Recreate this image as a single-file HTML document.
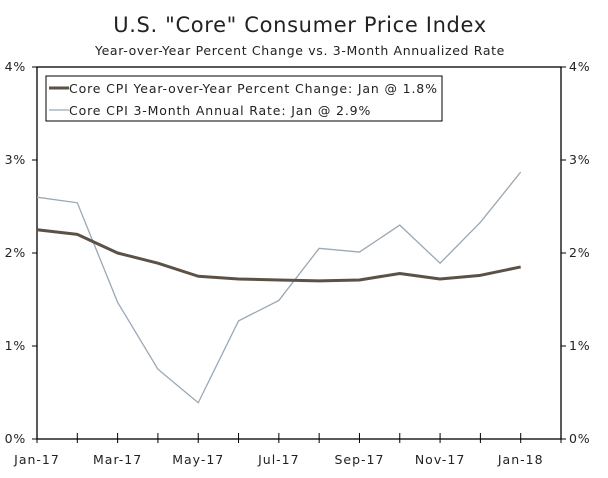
<!DOCTYPE html>
<html><head><meta charset="utf-8"><style>
body{margin:0;background:#fff;font-family:"DejaVu Sans","Liberation Sans",sans-serif;}
svg text{font-family:"DejaVu Sans","Liberation Sans",sans-serif;fill:#222;}
</style></head><body>
<svg id="chart" width="608" height="474" xmlns="http://www.w3.org/2000/svg">
<text x="300" y="32" font-size="21" letter-spacing="0.65" text-anchor="middle">U.S. "Core" Consumer Price Index</text>
<text x="300" y="55" font-size="12.5" letter-spacing="0.65" text-anchor="middle">Year-over-Year Percent Change vs. 3-Month Annualized Rate</text>
<rect x="37" y="67" width="524" height="372" fill="none" stroke="#000" stroke-width="1.3"/>
<g id="axes"></g>
<g id="series"></g>
<g>
<rect x="46" y="76" width="396" height="45" fill="#fff" stroke="#000" stroke-width="1"/>
<line x1="49" y1="88" x2="69" y2="88" stroke="#5c5146" stroke-width="3"/>
<text x="69" y="93" font-size="12.5" letter-spacing="0.85">Core CPI Year-over-Year Percent Change: Jan @ 1.8%</text>
<line x1="49" y1="110" x2="69" y2="110" stroke="#9aa8b4" stroke-width="1.2"/>
<text x="69" y="115" font-size="12.5" letter-spacing="0.85">Core CPI 3-Month Annual Rate: Jan @ 2.9%</text>
</g>
</svg>
<script>
const months = ["Jan-17","Feb-17","Mar-17","Apr-17","May-17","Jun-17","Jul-17","Aug-17","Sep-17","Oct-17","Nov-17","Dec-17","Jan-18"];
const yoyValues = [2.25,2.20,2.00,1.89,1.75,1.72,1.71,1.70,1.71,1.78,1.72,1.76,1.85];
const threeMonthValues = [2.60,2.54,1.47,0.75,0.39,1.27,1.49,2.05,2.01,2.30,1.89,2.33,2.87];
const yTicks = [0,1,2,3,4];
const yTickLabels = ["0%","1%","2%","3%","4%"];
const NS="http://www.w3.org/2000/svg";
const x0=37,x1=561,y0=439,y1=67;
function xs(i){return x0+i*(x1-x0)/13;}
function ys(v){return y0-(v/4)*(y0-y1);}
function el(t,a,p){const e=document.createElementNS(NS,t);for(const k in a)e.setAttribute(k,a[k]);p.appendChild(e);return e;}
const ax=document.getElementById('axes');
for(let i=0;i<=13;i++){
  const t=el('line',{x1:xs(i),x2:xs(i),y1:y0-6,y2:y0+4,stroke:'#000','stroke-width':1},ax);
  
  
}
months.forEach((m,i)=>{ if(i%2) return;
  const t=el('text',{x:xs(i),y:464,'font-size':12.5,'letter-spacing':1,'text-anchor':'middle'},ax);t.textContent=m;
  
  
});
yTicks.forEach((v,i)=>{
  const y=ys(v);
  const a=el('line',{x1:x0-5,x2:x0,y1:y,y2:y,stroke:'#000'},ax);
  
  
  const b=el('line',{x1:x1,x2:x1+5,y1:y,y2:y,stroke:'#000'},ax);
  
  
  const l=el('text',{x:26,y:y+4,'font-size':12.5,'letter-spacing':0.8,'text-anchor':'end'},ax);l.textContent=yTickLabels[i];
  
  
  const r=el('text',{x:569,y:y+4,'font-size':12.5,'letter-spacing':0.8},ax);r.textContent=yTickLabels[i];
  
  
});
const s=document.getElementById('series');
const p2=el('polyline',{points:threeMonthValues.map((v,i)=>xs(i)+','+ys(v)).join(' '),fill:'none',stroke:'#9aa8b4','stroke-width':1.3},s);


const p1=el('polyline',{points:yoyValues.map((v,i)=>xs(i)+','+ys(v)).join(' '),fill:'none',stroke:'#5c5146','stroke-width':3,'stroke-linejoin':'round'},s);


</script>
</body></html>
